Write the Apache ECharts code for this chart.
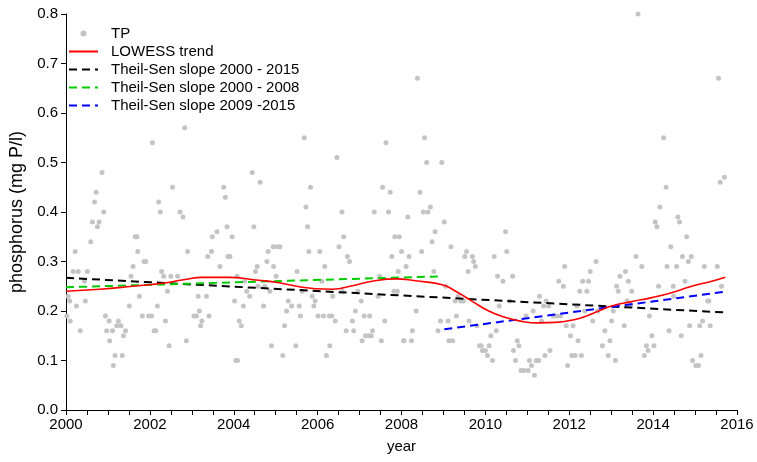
<!DOCTYPE html>
<html>
<head>
<meta charset="utf-8">
<title>Total phosphorus trend</title>
<script src="https://cdn.jsdelivr.net/npm/echarts@6/dist/echarts.min.js"></script>
<style>
  html, body { margin: 0; padding: 0; background: #ffffff; }
  #chart { width: 757px; height: 462px; }
</style>
</head>
<body>
<div id="chart"></div>
<script>
// Total phosphorus samples: [decimal year, mg P/l]
const tpSamples = [
  [2000.02, 0.19], [2000.05, 0.23], [2000.09, 0.22], [2000.10, 0.18], [2000.17, 0.28],
  [2000.22, 0.32], [2000.25, 0.21], [2000.29, 0.28], [2000.34, 0.16], [2000.44, 0.26],
  [2000.46, 0.22], [2000.51, 0.28], [2000.59, 0.34], [2000.63, 0.38], [2000.68, 0.42],
  [2000.72, 0.44], [2000.75, 0.37], [2000.79, 0.38], [2000.86, 0.48], [2000.90, 0.40],
  [2000.94, 0.19], [2000.97, 0.16], [2001.03, 0.18], [2001.04, 0.14], [2001.11, 0.16],
  [2001.13, 0.09], [2001.17, 0.11], [2001.21, 0.17], [2001.25, 0.18], [2001.31, 0.17],
  [2001.34, 0.11], [2001.37, 0.15], [2001.42, 0.16], [2001.51, 0.21], [2001.55, 0.27],
  [2001.60, 0.29], [2001.65, 0.35], [2001.69, 0.35], [2001.71, 0.32], [2001.75, 0.23],
  [2001.82, 0.19], [2001.86, 0.30], [2001.90, 0.30], [2001.97, 0.19], [2002.04, 0.19],
  [2002.06, 0.54], [2002.10, 0.16], [2002.14, 0.16], [2002.18, 0.21], [2002.21, 0.42],
  [2002.25, 0.40], [2002.28, 0.28], [2002.33, 0.27], [2002.37, 0.18], [2002.42, 0.24],
  [2002.46, 0.13], [2002.50, 0.27], [2002.54, 0.45], [2002.66, 0.27], [2002.72, 0.40],
  [2002.79, 0.39], [2002.83, 0.57], [2002.87, 0.14], [2002.90, 0.32], [2003.05, 0.19],
  [2003.11, 0.19], [2003.15, 0.23], [2003.18, 0.20], [2003.21, 0.17], [2003.24, 0.18],
  [2003.35, 0.23], [2003.38, 0.31], [2003.41, 0.19], [2003.47, 0.32], [2003.49, 0.35],
  [2003.60, 0.36], [2003.67, 0.29], [2003.76, 0.45], [2003.80, 0.43], [2003.84, 0.37],
  [2003.86, 0.31], [2003.91, 0.31], [2003.96, 0.35], [2004.02, 0.22], [2004.05, 0.10],
  [2004.08, 0.27], [2004.09, 0.10], [2004.13, 0.18], [2004.18, 0.17], [2004.23, 0.21],
  [2004.26, 0.26], [2004.31, 0.24], [2004.38, 0.23], [2004.44, 0.48], [2004.48, 0.37],
  [2004.52, 0.28], [2004.56, 0.29], [2004.58, 0.25], [2004.63, 0.46], [2004.71, 0.21],
  [2004.74, 0.25], [2004.79, 0.30], [2004.82, 0.32], [2004.86, 0.24], [2004.90, 0.13],
  [2004.94, 0.33], [2004.95, 0.29], [2005.01, 0.27], [2005.04, 0.33], [2005.10, 0.33],
  [2005.17, 0.11], [2005.21, 0.17], [2005.26, 0.20], [2005.30, 0.22], [2005.38, 0.21],
  [2005.48, 0.13], [2005.51, 0.28], [2005.56, 0.21], [2005.59, 0.19], [2005.63, 0.24],
  [2005.68, 0.55], [2005.72, 0.41], [2005.76, 0.37], [2005.79, 0.32], [2005.83, 0.45],
  [2005.87, 0.23], [2005.91, 0.21], [2005.94, 0.22], [2006.01, 0.19], [2006.05, 0.32],
  [2006.10, 0.26], [2006.14, 0.19], [2006.17, 0.29], [2006.21, 0.11], [2006.28, 0.19],
  [2006.29, 0.13], [2006.34, 0.19], [2006.36, 0.23], [2006.42, 0.18], [2006.46, 0.51],
  [2006.51, 0.33], [2006.58, 0.40], [2006.59, 0.24], [2006.62, 0.35], [2006.68, 0.16],
  [2006.71, 0.31], [2006.76, 0.30], [2006.83, 0.18], [2006.86, 0.16], [2006.90, 0.20],
  [2006.96, 0.24], [2007.04, 0.22], [2007.06, 0.14], [2007.11, 0.19], [2007.14, 0.15],
  [2007.22, 0.15], [2007.24, 0.19], [2007.28, 0.15], [2007.31, 0.16], [2007.35, 0.40],
  [2007.44, 0.23], [2007.48, 0.27], [2007.52, 0.14], [2007.55, 0.45], [2007.60, 0.18],
  [2007.63, 0.54], [2007.69, 0.40], [2007.73, 0.44], [2007.77, 0.31], [2007.82, 0.24],
  [2007.84, 0.35], [2007.90, 0.24], [2007.92, 0.28], [2007.95, 0.35], [2008.00, 0.32],
  [2008.05, 0.14], [2008.06, 0.14], [2008.11, 0.29], [2008.15, 0.39], [2008.18, 0.31],
  [2008.24, 0.14], [2008.26, 0.16], [2008.35, 0.20], [2008.38, 0.67], [2008.44, 0.44],
  [2008.48, 0.32], [2008.52, 0.40], [2008.55, 0.55], [2008.60, 0.50], [2008.63, 0.40],
  [2008.69, 0.41], [2008.73, 0.34], [2008.77, 0.28], [2008.80, 0.36], [2008.87, 0.16],
  [2008.93, 0.18], [2008.96, 0.50], [2009.02, 0.38], [2009.05, 0.25], [2009.11, 0.18],
  [2009.13, 0.14], [2009.18, 0.33], [2009.22, 0.14], [2009.28, 0.22], [2009.31, 0.19],
  [2009.35, 0.23], [2009.41, 0.22], [2009.48, 0.22], [2009.51, 0.31], [2009.55, 0.32],
  [2009.59, 0.28], [2009.61, 0.18], [2009.69, 0.31], [2009.72, 0.30], [2009.76, 0.29],
  [2009.80, 0.17], [2009.86, 0.13], [2009.90, 0.13], [2009.93, 0.12], [2010.00, 0.12],
  [2010.05, 0.11], [2010.09, 0.13], [2010.13, 0.15], [2010.17, 0.10], [2010.21, 0.31],
  [2010.26, 0.16], [2010.29, 0.27], [2010.33, 0.21], [2010.42, 0.26], [2010.48, 0.36],
  [2010.51, 0.32], [2010.58, 0.22], [2010.65, 0.27], [2010.67, 0.12], [2010.72, 0.10],
  [2010.76, 0.14], [2010.80, 0.13], [2010.85, 0.08], [2010.92, 0.08], [2010.97, 0.19],
  [2011.02, 0.08], [2011.05, 0.10], [2011.10, 0.09], [2011.14, 0.20], [2011.17, 0.07],
  [2011.21, 0.10], [2011.27, 0.10], [2011.29, 0.23], [2011.34, 0.18], [2011.39, 0.21],
  [2011.42, 0.11], [2011.45, 0.22], [2011.51, 0.21], [2011.54, 0.12], [2011.62, 0.19],
  [2011.70, 0.19], [2011.75, 0.26], [2011.79, 0.19], [2011.86, 0.25], [2011.89, 0.29],
  [2011.93, 0.17], [2011.96, 0.09], [2012.03, 0.15], [2012.06, 0.11], [2012.09, 0.17],
  [2012.14, 0.11], [2012.18, 0.21], [2012.21, 0.14], [2012.25, 0.24], [2012.29, 0.11],
  [2012.32, 0.26], [2012.37, 0.20], [2012.42, 0.24], [2012.46, 0.26], [2012.50, 0.28],
  [2012.56, 0.18], [2012.64, 0.30], [2012.68, 0.20], [2012.79, 0.13], [2012.85, 0.16],
  [2012.93, 0.11], [2012.97, 0.14], [2013.01, 0.18], [2013.05, 0.20], [2013.10, 0.10],
  [2013.13, 0.25], [2013.17, 0.24], [2013.21, 0.27], [2013.31, 0.17], [2013.34, 0.28],
  [2013.38, 0.22], [2013.41, 0.26], [2013.46, 0.21], [2013.49, 0.24], [2013.59, 0.31],
  [2013.64, 0.80], [2013.73, 0.29], [2013.79, 0.11], [2013.84, 0.13], [2013.88, 0.12],
  [2013.91, 0.19], [2013.97, 0.15], [2014.02, 0.13], [2014.05, 0.38], [2014.09, 0.37],
  [2014.13, 0.25], [2014.16, 0.41], [2014.25, 0.55], [2014.31, 0.45], [2014.33, 0.29],
  [2014.38, 0.16], [2014.42, 0.33], [2014.48, 0.25], [2014.49, 0.23], [2014.56, 0.29],
  [2014.59, 0.39], [2014.63, 0.38], [2014.67, 0.15], [2014.70, 0.31], [2014.76, 0.26],
  [2014.80, 0.35], [2014.84, 0.30], [2014.87, 0.17], [2014.91, 0.31], [2014.94, 0.10],
  [2015.02, 0.09], [2015.08, 0.09], [2015.11, 0.17], [2015.14, 0.11], [2015.18, 0.18],
  [2015.22, 0.29], [2015.30, 0.22], [2015.33, 0.22], [2015.36, 0.17], [2015.53, 0.29],
  [2015.56, 0.67], [2015.60, 0.46], [2015.63, 0.25], [2015.70, 0.47]
];

// LOWESS smoothed trend: [decimal year, mg P/l]
const lowessTrend = [
  [2000.00, 0.240], [2000.80, 0.244], [2001.59, 0.250], [2002.30, 0.256], [2002.80, 0.263],
  [2003.25, 0.268], [2003.85, 0.268], [2004.60, 0.262], [2005.08, 0.257], [2005.56, 0.249],
  [2005.95, 0.245], [2006.35, 0.244], [2006.83, 0.251], [2007.30, 0.260], [2007.86, 0.265],
  [2008.33, 0.261], [2008.97, 0.253], [2009.29, 0.240], [2009.68, 0.220], [2010.08, 0.200],
  [2010.48, 0.187], [2010.87, 0.179], [2011.27, 0.176], [2011.67, 0.177], [2012.14, 0.183],
  [2012.38, 0.189], [2012.70, 0.200], [2013.01, 0.210], [2013.49, 0.219], [2013.97, 0.227],
  [2014.44, 0.237], [2014.92, 0.250], [2015.40, 0.260], [2015.72, 0.268]
];

// Theil-Sen slope lines: [start year, value], [end year, value]
const theilSen2000to2015 = [[2000.00, 0.267], [2015.72, 0.197]];
const theilSen2000to2008 = [[2000.00, 0.248], [2008.98, 0.270]];
const theilSen2009to2015 = [[2009.02, 0.163], [2015.72, 0.239]];

// Axis ticks
const yearTicks = [2000, 2002, 2004, 2006, 2008, 2010, 2012, 2014, 2016];
const tpTicks = [0.0, 0.1, 0.2, 0.3, 0.4, 0.5, 0.6, 0.7, 0.8];

const FONT = '"Liberation Sans", Arial, sans-serif';
const chart = echarts.init(document.getElementById('chart'), null, { renderer: 'canvas' });

function dashedLine(name, data, color) {
  return {
    name: name,
    type: 'line',
    data: data,
    symbol: 'none',
    showSymbol: false,
    silent: true,
    z: 4,
    lineStyle: { color: color, width: 2, type: [8, 5] },
    itemStyle: { color: color }
  };
}

// line entries in the legend show only their stroke, no marker dot
const lineOnly = { itemStyle: { opacity: 0 } };

chart.setOption({
  animation: false,
  backgroundColor: '#ffffff',
  textStyle: { fontFamily: FONT, color: '#000' },
  grid: { left: 66, right: 20, top: 14, bottom: 52, containLabel: false },
  legend: {
    orient: 'vertical',
    left: 63,
    top: 21,
    itemWidth: 29,
    itemHeight: 6,
    itemGap: 3,
    textStyle: { fontFamily: FONT, fontSize: 15, color: '#000', padding: [0, 0, 0, 8] },
    data: [
      { name: 'TP', icon: 'circle' },
      Object.assign({ name: 'LOWESS trend' }, lineOnly),
      Object.assign({ name: 'Theil-Sen slope 2000 - 2015' }, lineOnly),
      Object.assign({ name: 'Theil-Sen slope 2000 - 2008' }, lineOnly),
      Object.assign({ name: 'Theil-Sen slope 2009 -2015' }, lineOnly)
    ]
  },
  xAxis: {
    type: 'value',
    min: yearTicks[0],
    max: yearTicks[yearTicks.length - 1],
    interval: 2,
    name: 'year',
    nameLocation: 'middle',
    nameGap: 29,
    nameTextStyle: { fontFamily: FONT, fontSize: 15, color: '#000' },
    axisLine: { show: true, onZero: false, lineStyle: { color: '#000', width: 1 } },
    axisTick: { show: true, inside: false, length: 5, lineStyle: { color: '#000' } },
    minorTick: { show: true, splitNumber: 4, length: 5, lineStyle: { color: '#000' } },
    splitLine: { show: false },
    axisLabel: {
      fontFamily: FONT, fontSize: 15, color: '#000', margin: 7,
      formatter: v => (yearTicks.indexOf(v) >= 0 ? String(v) : '')
    }
  },
  yAxis: {
    type: 'value',
    min: tpTicks[0],
    max: tpTicks[tpTicks.length - 1],
    interval: 0.1,
    name: 'phosphorus (mg P/l)',
    nameLocation: 'middle',
    nameGap: 35,
    nameRotate: 90,
    nameTextStyle: { fontFamily: FONT, fontSize: 18, color: '#000' },
    axisLine: { show: true, onZero: false, lineStyle: { color: '#000', width: 1 } },
    axisTick: { show: true, inside: false, length: 5, lineStyle: { color: '#000' } },
    splitLine: { show: false },
    axisLabel: {
      fontFamily: FONT, fontSize: 15, color: '#000', margin: 8,
      formatter: v => v.toFixed(1)
    }
  },
  series: [
    {
      name: 'TP',
      type: 'scatter',
      data: tpSamples,
      symbol: 'circle',
      symbolSize: 5,
      silent: true,
      z: 2,
      itemStyle: { color: '#c4c4c4', opacity: 1 }
    },
    {
      name: 'LOWESS trend',
      type: 'line',
      data: lowessTrend,
      symbol: 'none',
      showSymbol: false,
      smooth: 0.5,
      silent: true,
      z: 5,
      lineStyle: { color: '#ff0000', width: 1.6 },
      itemStyle: { color: '#ff0000' }
    },
    dashedLine('Theil-Sen slope 2000 - 2015', theilSen2000to2015, '#000000'),
    dashedLine('Theil-Sen slope 2000 - 2008', theilSen2000to2008, '#00cc00'),
    dashedLine('Theil-Sen slope 2009 -2015', theilSen2009to2015, '#0000ff')
  ]
});
</script>
</body>
</html>
